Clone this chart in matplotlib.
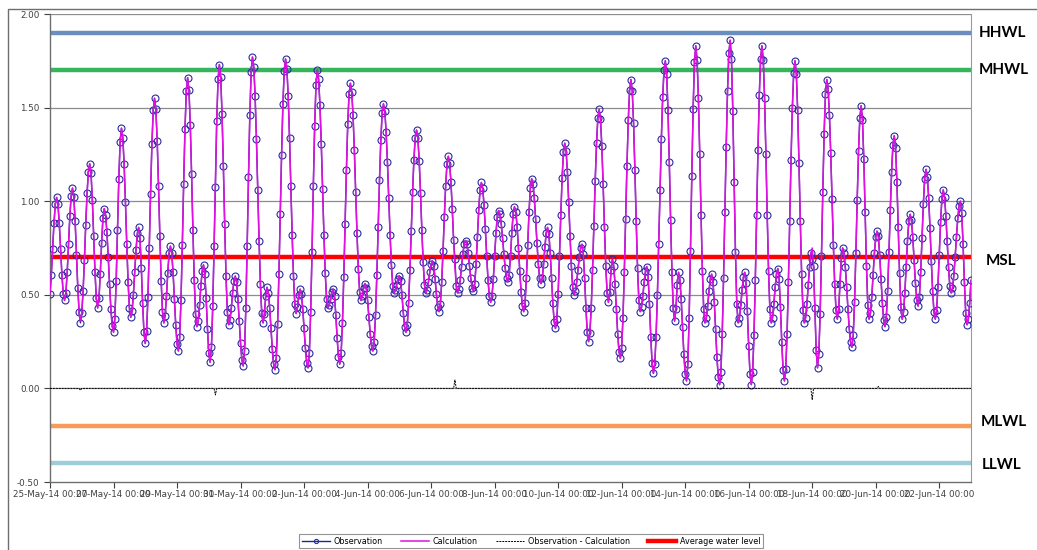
import numpy as np
import matplotlib
matplotlib.use("Agg")
import matplotlib.pyplot as plt
from matplotlib.patches import Rectangle

# turning points of the tide (hours after 25-May-14 00:00, metres)
turn_hours = [-1, 5, 11, 17, 23, 30, 36, 41, 48, 54, 61, 67, 72, 79, 86, 91, 97, 104, 111, 116,
              121, 128, 135, 140, 146, 153, 161, 164, 170, 178, 186, 189, 195, 202, 210, 214, 219,
              227, 235, 238, 244, 252, 260, 264, 269, 277, 284, 289, 294, 301, 308, 314, 320, 326,
              333, 339, 346, 351, 358, 364, 371, 376, 382, 389, 396, 402, 407, 415, 422, 425, 431,
              439, 446, 451, 456, 465, 472, 475, 481, 488, 495, 500, 506, 514, 520, 525, 530, 538,
              545, 550, 555, 563, 570, 576, 580, 587, 595, 599, 606, 613, 619, 625, 631, 638, 644,
              650, 656, 662, 669, 675, 681, 688, 693, 700]
turn_levels = [0.47, 1.02, 0.47, 1.07, 0.36, 1.20, 0.43, 0.96, 0.30, 1.39, 0.38, 0.86, 0.24, 1.55,
               0.35, 0.76, 0.20, 1.66, 0.33, 0.66, 0.14, 1.73, 0.34, 0.60, 0.12, 1.77, 0.35, 0.54,
               0.10, 1.76, 0.40, 0.53, 0.11, 1.70, 0.43, 0.53, 0.13, 1.63, 0.47, 0.56, 0.20, 1.52,
               0.51, 0.60, 0.30, 1.38, 0.51, 0.68, 0.41, 1.24, 0.51, 0.79, 0.52, 1.10, 0.46, 0.95,
               0.57, 0.97, 0.41, 1.12, 0.56, 0.86, 0.32, 1.31, 0.50, 0.77, 0.25, 1.49, 0.46, 0.69,
               0.16, 1.65, 0.41, 0.65, 0.08, 1.75, 0.36, 0.62, 0.04, 1.83, 0.35, 0.61, 0.02, 1.86,
               0.35, 0.62, 0.02, 1.83, 0.35, 0.64, 0.04, 1.75, 0.35, 0.75, 0.11, 1.65, 0.37, 0.75,
               0.22, 1.51, 0.37, 0.84, 0.33, 1.35, 0.37, 0.93, 0.44, 1.17, 0.37, 1.06, 0.51, 1.00,
               0.34, 0.95]

# spikes in observation - calculation
resid_hours = [23, 125, 306, 576, 626]
resid_values = [-0.01, -0.035, 0.045, -0.06, 0.01]

levels = {"HHWL": 1.90, "MHWL": 1.70, "MSL": 0.70, "MLWL": -0.20, "LLWL": -0.40}
level_colors = {"HHWL": "#5a82b8", "MHWL": "#1fae4a", "MLWL": "#f5904a", "LLWL": "#93c9d3"}

tick_labels = ["25-May-14 00:00", "27-May-14 00:00", "29-May-14 00:00", "31-May-14 00:00",
               "2-Jun-14 00:00", "4-Jun-14 00:00", "6-Jun-14 00:00", "8-Jun-14 00:00",
               "10-Jun-14 00:00", "12-Jun-14 00:00", "14-Jun-14 00:00", "16-Jun-14 00:00",
               "18-Jun-14 00:00", "20-Jun-14 00:00", "22-Jun-14 00:00"]

# hourly record, smooth between turning points
hours = np.arange(0, 697)
th = np.array(turn_hours, dtype=float)
tv = np.array(turn_levels)
idx = np.searchsorted(th, hours, side="right") - 1
frac = (hours - th[idx]) / (th[idx + 1] - th[idx])
calc = tv[idx] + (tv[idx + 1] - tv[idx]) * (1 - np.cos(np.pi * frac)) / 2
resid = np.zeros(len(hours))
resid[resid_hours] = resid_values
obs = calc + resid

fig = plt.figure(figsize=(10.37, 5.5), dpi=100)
ax = fig.add_axes([50 / 1037, 68 / 550, 921 / 1037, 468 / 550])

# chart area border
fig.patches.append(Rectangle((8 / 1037, -0.1), 1.2, 1.1 - 9 / 550, transform=fig.transFigure,
                             fill=False, edgecolor="#6e6e6e", linewidth=1.0))

for y in [0.0, 0.5, 1.0, 1.5, 2.0]:
    ax.axhline(y, color="#8c8c8c", linewidth=0.9, zorder=1)

for name, col in level_colors.items():
    ax.axhline(levels[name], color=col, linewidth=3.2, alpha=0.9, zorder=2)
ax.axhline(levels["MSL"], color="#ff0000", linewidth=3.2, zorder=2, label="Average water level")

ax.plot(hours, obs, color="#1c2a8c", linewidth=1.0, marker="o", markersize=5,
        markerfacecolor="none", markeredgecolor="#2b2ba0", markeredgewidth=0.8,
        zorder=3, label="Observation")
ax.plot(hours, calc, color="#e010e0", linewidth=1.1, zorder=4, label="Calculation")
ax.plot(hours, obs - calc, color="black", linewidth=0.7, linestyle=(0, (2, 1)),
        zorder=5, label="Observation - Calculation")

ax.set_xlim(0, 696)
ax.set_ylim(-0.5, 2.0)
ax.set_yticks([-0.5, 0.0, 0.5, 1.0, 1.5, 2.0])
ax.set_yticklabels(["-0.50", "0.00", "0.50", "1.00", "1.50", "2.00"])
ax.set_xticks(np.arange(0, 696, 48))
ax.set_xticklabels(tick_labels)
ax.tick_params(axis="both", labelsize=6.3, colors="#404040", length=4, width=0.8, direction="out")
ax.tick_params(axis="x", pad=2)

for side in ["left", "bottom"]:
    ax.spines[side].set_color("#6e6e6e")
    ax.spines[side].set_linewidth(1.0)
ax.spines["top"].set_visible(False)
ax.spines["right"].set_color("#9a9a9a")
ax.spines["right"].set_linewidth(0.8)

label_x = {"HHWL": 979, "MHWL": 979, "MSL": 986, "MLWL": 981, "LLWL": 982}
label_dy = {"HHWL": 0.0, "MHWL": 0.0, "MSL": -0.02, "MLWL": 0.02, "LLWL": -0.01}
for name in ["HHWL", "MHWL", "MSL", "MLWL", "LLWL"]:
    ax.text(label_x[name] / 1037, levels[name] + label_dy[name], name,
            transform=ax.get_yaxis_transform().__class__(fig.transFigure, ax.transData),
            ha="left", va="center", fontsize=11, fontweight="bold", family="Lato",
            color="black")

handles, labels = ax.get_legend_handles_labels()
order = [labels.index(n) for n in ["Observation", "Calculation", "Observation - Calculation",
                                   "Average water level"]]
leg = fig.legend([handles[i] for i in order], [labels[i] for i in order], loc="center",
                 bbox_to_anchor=(531 / 1037, 1 - 541 / 550), ncol=4, fontsize=5.8,
                 frameon=True, fancybox=False, edgecolor="#7a7a7a", borderpad=0.35,
                 handlelength=3.5, columnspacing=2.2, handletextpad=0.5, markerscale=0.6)
leg.get_frame().set_linewidth(0.8)

fig.savefig("out.png", dpi=100)
